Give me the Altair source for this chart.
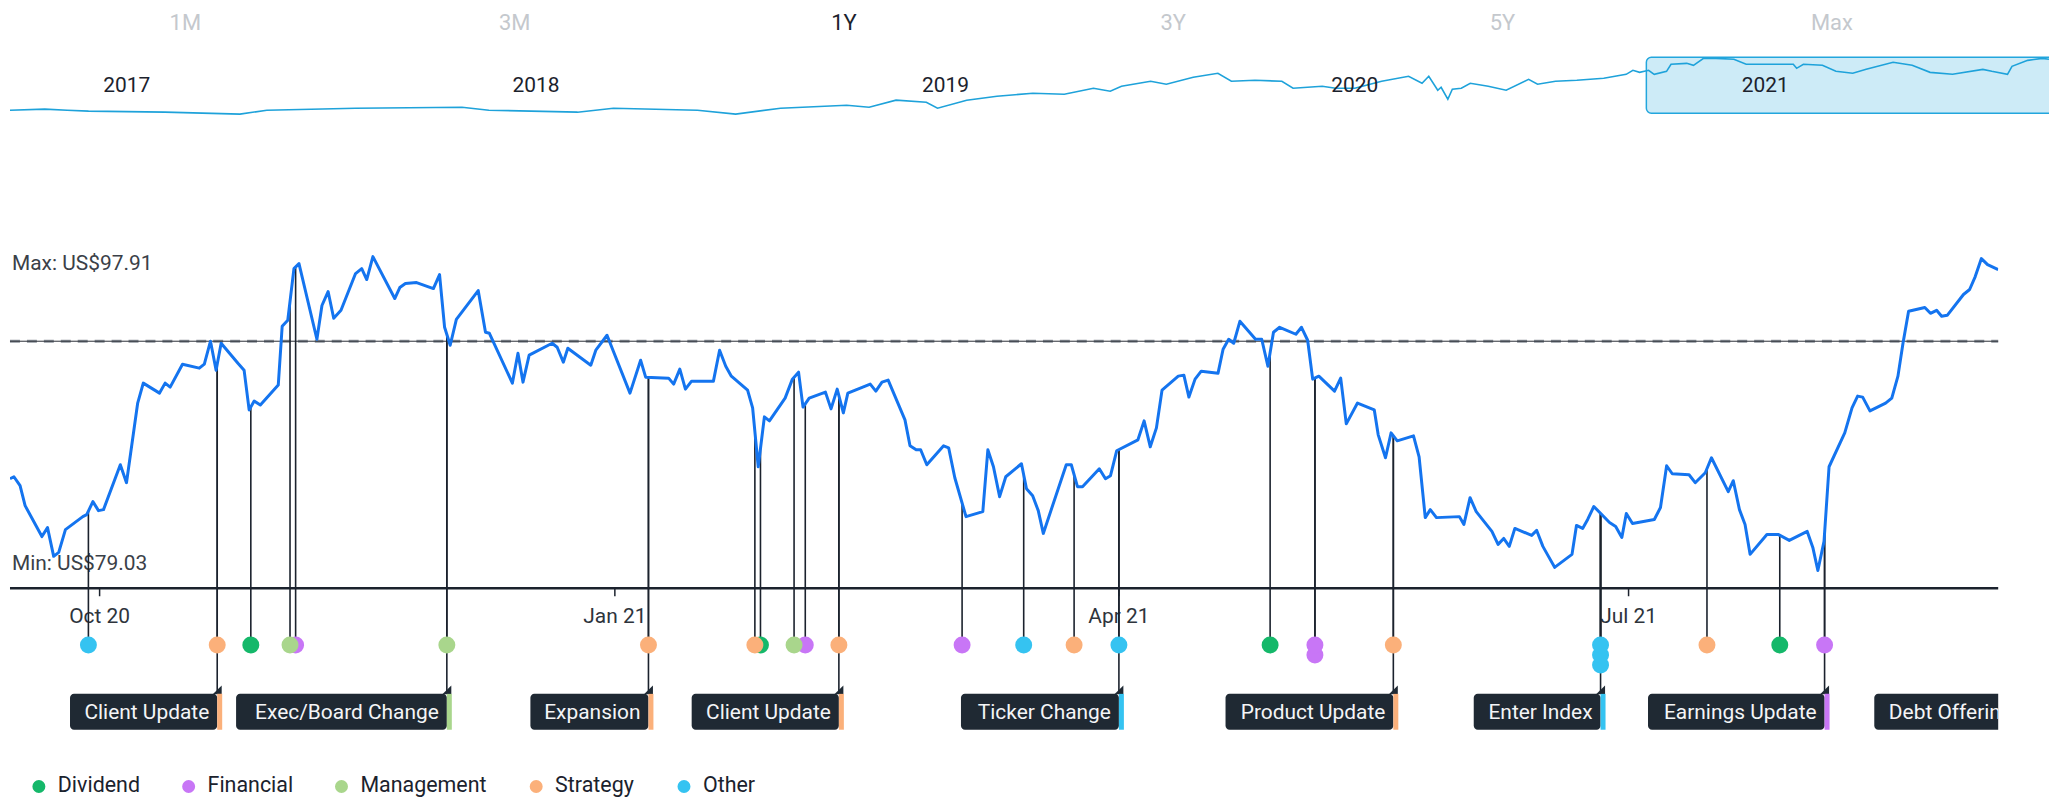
import altair as alt
import numpy as np
import pandas as pd

# ---------------- data ----------------
RANGE_BUTTONS = ["1M", "3M", "1Y", "3Y", "5Y", "Max"]
ACTIVE_BUTTON = "1Y"

# navigator (5 years): days since 2017-01-01 and price (US$)
NAV_YEARS = [2017, 2018, 2019, 2020, 2021]
NAV_DAY = [-104, -73, -53, -34, 34, 101, 125, 204, 299, 323,
           402, 434, 509, 543, 583, 642, 662, 686, 713, 723,
           749, 776, 808, 836, 862, 877, 887, 913, 927, 951,
           973, 985, 1006, 1030, 1040, 1066, 1078, 1095, 1119, 1143,
           1155, 1161, 1169, 1172, 1178, 1182, 1190, 1198, 1214, 1230,
           1250, 1258, 1274, 1293, 1317, 1337, 1343, 1349, 1357, 1362,
           1373, 1377, 1391, 1397, 1406, 1417, 1433, 1444, 1462, 1486,
           1489, 1495, 1512, 1524, 1539, 1551, 1575, 1592, 1608, 1628,
           1655, 1663, 1677, 1681, 1695, 1708, 1714]
NAV_PRICE = [41.5, 42.6, 41.5, 40.5, 39.4, 37.3, 41.5, 43.6, 44.7, 41.5,
             39.4, 43.6, 41.5, 37.3, 43.6, 46.8, 44.7, 52.2, 50.0, 43.6,
             52.2, 56.4, 59.6, 58.5, 64.9, 61.7, 67.0, 72.4, 69.2, 76.6,
             80.9, 72.4, 73.4, 72.4, 64.9, 67.0, 64.9, 64.9, 72.4, 77.7,
             70.2, 77.7, 62.8, 66.0, 53.2, 63.9, 64.9, 70.2, 67.0, 62.8,
             74.5, 69.2, 72.4, 73.4, 75.6, 79.8, 84.1, 81.9, 84.1, 79.8,
             83.0, 90.5, 91.5, 89.4, 96.8, 96.8, 95.8, 90.5, 90.5, 90.5,
             86.2, 90.5, 89.4, 83.0, 80.9, 85.1, 92.6, 89.4, 81.9, 79.8,
             85.1, 83.0, 79.8, 88.3, 94.7, 96.8, 95.8]
NAV_WINDOW = ["2020-09-17", "2021-09-17"]

# main 1Y price line: days since 2020-10-01 and price (US$)
PRICE_DAY = [-16.0, -15.3, -14.2, -13.3, -10.3, -9.3, -8.2, -7.3, -6.1, -3.0,
             -2.3, -1.2, -0.2, 0.7, 3.7, 4.8, 6.8, 7.8, 10.7, 11.7,
             12.6, 14.8, 17.8, 18.7, 19.8, 20.8, 21.7, 24.7, 25.8, 26.7,
             27.6, 28.7, 31.9, 32.6, 33.6, 34.7, 35.6, 38.8, 39.7, 40.8,
             41.8, 43.1, 45.7, 46.8, 47.7, 48.8, 52.7, 53.6, 54.6, 56.6,
             59.6, 60.7, 61.6, 62.6, 63.7, 67.6, 68.9, 69.6, 73.7, 74.7,
             75.6, 76.7, 80.8, 81.7, 82.8, 83.6, 87.7, 88.6, 90.6, 94.7,
             96.6, 97.5, 101.6, 102.5, 103.6, 104.6, 105.7, 109.6, 110.7, 111.8,
             112.8, 115.7, 116.6, 117.6, 118.7, 119.6, 122.4, 123.7, 124.8, 125.6,
             126.7, 129.6, 130.6, 131.7, 132.8, 133.6, 137.6, 138.6, 139.7, 140.8,
             143.8, 144.7, 145.8, 146.6, 147.7, 150.7, 151.6, 152.7, 154.7, 157.7,
             158.6, 159.6, 160.7, 161.8, 164.6, 165.5, 166.6, 167.6, 168.5, 172.6,
             173.5, 174.6, 175.5, 178.5, 179.6, 180.5, 181.6, 185.4, 186.5, 187.6,
             188.7, 189.7, 192.6, 193.6, 194.5, 195.6, 196.7, 199.7, 200.6, 201.6,
             202.5, 203.6, 206.4, 207.5, 208.6, 209.6, 210.7, 213.6, 214.6, 215.7,
             216.6, 217.7, 220.5, 221.6, 222.6, 224.6, 227.6, 228.3, 229.6, 230.6,
             231.7, 234.6, 235.6, 236.7, 237.6, 238.7, 242.8, 243.6, 244.7, 245.8,
             248.6, 249.7, 250.7, 251.7, 252.7, 255.7, 256.6, 257.7, 258.6, 259.8,
             262.9, 263.7, 264.8, 265.7, 266.8, 269.6, 270.7, 271.8, 272.6, 273.7,
             277.6, 278.7, 279.8, 280.8, 283.8, 284.9, 286.7, 287.8, 290.8, 291.7,
             292.8, 293.8, 294.7, 297.7, 298.6, 299.7, 301.7, 304.9, 305.9, 306.8,
             307.9, 308.8, 311.6, 312.9, 313.9, 314.8, 316.1, 318.9, 320.0, 321.1,
             322.0, 323.0, 325.9, 326.9, 328.0, 328.9, 329.9, 332.8, 333.9, 334.9,
             336.0, 337.1, 339.0]
PRICE = [84.55, 84.67, 84.13, 82.93, 81.07, 81.61, 79.88, 80.12, 81.49, 82.27,
         82.39, 83.17, 82.63, 82.69, 85.39, 84.31, 89.10, 90.30, 89.70, 90.30,
         90.06, 91.44, 91.20, 91.44, 92.82, 91.08, 92.70, 91.50, 91.08, 88.69,
         89.22, 88.98, 90.18, 93.72, 94.08, 97.19, 97.49, 92.94, 94.97, 95.81,
         94.20, 94.68, 96.89, 97.19, 96.53, 97.91, 95.39, 96.05, 96.29, 96.35,
         95.99, 96.83, 93.66, 92.58, 94.14, 95.87, 93.36, 93.30, 90.30, 92.10,
         90.36, 91.98, 92.70, 92.46, 91.56, 92.40, 91.38, 92.28, 93.18, 89.70,
         91.68, 90.66, 90.60, 90.24, 91.14, 89.94, 90.42, 90.42, 92.28, 91.32,
         90.72, 89.88, 88.81, 85.27, 88.27, 88.03, 89.40, 90.54, 90.96, 88.86,
         89.40, 89.76, 88.75, 89.94, 88.51, 89.70, 90.24, 89.82, 90.36, 90.48,
         88.09, 86.53, 86.29, 86.29, 85.39, 86.53, 86.41, 84.61, 82.27, 82.57,
         86.29, 85.27, 83.47, 84.67, 85.45, 83.95, 83.53, 82.63, 81.26, 85.39,
         85.39, 84.07, 84.07, 85.15, 84.55, 84.73, 86.23, 86.89, 88.03, 86.47,
         87.61, 89.88, 90.72, 90.78, 89.46, 90.54, 91.02, 90.90, 92.34, 92.94,
         92.70, 94.02, 92.94, 92.94, 91.32, 93.36, 93.66, 93.24, 93.66, 92.88,
         90.54, 90.72, 89.82, 90.60, 87.85, 89.10, 88.69, 87.19, 85.81, 87.31,
         86.83, 87.13, 85.87, 82.21, 82.69, 82.21, 82.27, 81.80, 83.41, 82.57,
         81.38, 80.60, 80.96, 80.48, 81.56, 81.14, 81.44, 80.48, 79.94, 79.22,
         80.00, 81.74, 81.56, 82.10, 82.88, 81.92, 81.68, 81.02, 82.46, 81.86,
         82.10, 82.82, 85.33, 84.85, 84.79, 84.31, 84.91, 85.81, 83.77, 84.43,
         82.69, 81.80, 80.00, 81.20, 81.20, 81.20, 80.84, 81.38, 80.42, 79.03,
         80.78, 85.27, 87.31, 88.81, 89.52, 89.46, 88.63, 89.10, 89.40, 90.72,
         92.70, 94.62, 94.85, 94.50, 94.68, 94.32, 94.38, 95.63, 95.93, 96.71,
         97.79, 97.43, 97.13]
REF_PRICE = 92.82

TICK_DATES = ["2020-10-01", "2021-01-01", "2021-04-01", "2021-07-01"]
TICK_LABELS = ["Oct 20", "Jan 21", "Apr 21", "Jul 21"]

CATEGORIES = ["Dividend", "Financial", "Management", "Strategy", "Other"]
CAT_COLORS = ["#15b86a", "#c876f6", "#a9d68c", "#fbb07a", "#35c3f1"]

# events: days since 2020-10-01, category, stack slot, label
EV_DAY = [-2, 21, 27, 34, 35, 62, 98, 117, 118, 124, 126, 132, 154, 165, 174,
          182, 209, 217, 217, 231, 268, 268, 268, 287, 300, 308, 343]
EV_CAT = ["Other", "Strategy", "Dividend", "Management", "Financial",
          "Management", "Strategy", "Strategy", "Dividend", "Management",
          "Financial", "Strategy", "Financial", "Other", "Strategy",
          "Other", "Dividend", "Financial", "Financial", "Strategy",
          "Other", "Other", "Other", "Strategy", "Dividend",
          "Financial", "Financial"]
EV_SLOT = [0] * 18 + [1] + [0, 0] + [1, 2] + [0, 0, 0, 0]
EV_LABEL = ["", "Client Update", "", "", "", "Exec/Board Change", "Expansion",
            "", "", "", "", "Client Update", "", "", "", "Ticker Change", "",
            "", "", "Product Update", "Enter Index", "", "", "", "",
            "Earnings Update", "Debt Offering"]

# ---------------- layout constants ----------------
W, H = 1996, 780
FONT = "Roboto"
DARK = "#1b222d"
BASE = pd.Timestamp("2020-10-01")
NAV_BASE = pd.Timestamp("2017-01-01")

X_MAIN = alt.Scale(domain=[alt.DateTime(year=2020, month=9, date=15),
                           alt.DateTime(year=2021, month=9, date=5)],
                   range=[0, W], nice=False)
PX_PER_DAY = W / 355.0
Y_MAIN = alt.Scale(domain=[77.96, 99.47], range=[581, 222], nice=False, zero=False)
X_NAV = alt.Scale(domain=[alt.DateTime(year=2016, month=9, date=19),
                          alt.DateTime(year=2021, month=9, date=11)],
                  range=[0, 2047], nice=False)
Y_NAV = alt.Scale(domain=[37.3, 97.9], range=[105, 48], nice=False, zero=False)
Y_SLOT = alt.Scale(domain=[0, 2], range=[638, 658], nice=False, zero=False)
X_BTN = alt.Scale(type="point", domain=RANGE_BUTTONS, range=[176, 1829], padding=0)
COLOR = alt.Scale(domain=CATEGORIES, range=CAT_COLORS)

# approximate Roboto glyph widths (em), used to size boxes and space legend items
EM = {c: 0.55 for c in "abcdeghknopqsuvxyz"}
EM.update({"f": 0.35, "i": 0.24, "j": 0.24, "l": 0.24, "m": 0.88, "r": 0.34,
           "t": 0.33, "w": 0.75, " ": 0.25, "/": 0.41, "C": 0.65, "E": 0.57,
           "B": 0.62, "D": 0.65, "I": 0.27, "O": 0.69, "P": 0.63, "T": 0.6,
           "U": 0.65, "F": 0.55, "M": 0.87, "S": 0.59, "G": 0.68, "A": 0.65})


def text_px(s, size=22):
    return sum(EM.get(ch, 0.6) for ch in s) * size


# ---------------- frames ----------------
price_df = pd.DataFrame({
    "date": (BASE + pd.to_timedelta(PRICE_DAY, unit="D")).round("min"),
    "price": PRICE,
})
nav_df = pd.DataFrame({
    "date": (NAV_BASE + pd.to_timedelta(NAV_DAY, unit="D")).round("min"),
    "price": NAV_PRICE,
})
year_df = pd.DataFrame({
    "date": [pd.Timestamp(year=y, month=1, day=1) for y in NAV_YEARS],
    "label": [str(y) for y in NAV_YEARS],
})
win_df = pd.DataFrame({"start": [pd.Timestamp(NAV_WINDOW[0])],
                       "end": [pd.Timestamp(NAV_WINDOW[1])]})
btn_df = pd.DataFrame({"btn": RANGE_BUTTONS})
tick_df = pd.DataFrame({"date": pd.to_datetime(TICK_DATES), "label": TICK_LABELS})
ref_df = pd.DataFrame({"price": [REF_PRICE]})
pmax, pmin = max(PRICE), min(PRICE)
max_df = pd.DataFrame({"price": [pmax], "label": [f"Max: US${pmax:.2f}"]})
min_df = pd.DataFrame({"price": [pmin], "label": [f"Min: US${pmin:.2f}"]})

ev_df = pd.DataFrame({
    "day": EV_DAY, "cat": EV_CAT, "slot": EV_SLOT, "label": EV_LABEL,
})
ev_df["date"] = BASE + pd.to_timedelta(ev_df["day"], unit="D")
ev_df["price"] = np.interp(ev_df["day"], PRICE_DAY, PRICE)
ev_df["hex"] = ev_df["cat"].map(dict(zip(CATEGORIES, CAT_COLORS)))
ev_df = ev_df.sort_values(["day", "slot"], ascending=[False, False]).reset_index(drop=True)
lab_df = ev_df[ev_df["label"] != ""].drop_duplicates("day").copy()
lab_df["left"] = lab_df.apply(
    lambda r: r["date"] - pd.Timedelta(days=(text_px(r["label"]) + 16) / PX_PER_DAY), axis=1)

# ---------------- layers ----------------
xm = alt.X("date:T", scale=X_MAIN, axis=None)
ym = alt.Y("price:Q", scale=Y_MAIN, axis=None)

nav_rect = alt.Chart(win_df).mark_rect(
    fill="#cdebf7", stroke="#22a6dd", strokeWidth=1.5, cornerRadius=5
).encode(
    x=alt.X("start:T", scale=X_NAV, axis=None), x2="end:T",
    y=alt.value(48), y2=alt.value(104))

nav_line = alt.Chart(nav_df).mark_line(color="#1ea2da", strokeWidth=1.6).encode(
    x=alt.X("date:T", scale=X_NAV, axis=None),
    y=alt.Y("price:Q", scale=Y_NAV, axis=None))

nav_years = alt.Chart(year_df).mark_text(
    fontSize=21, color=DARK, baseline="middle", font=FONT
).encode(x=alt.X("date:T", scale=X_NAV, axis=None), y=alt.value(77), text="label:N")

buttons = alt.Chart(btn_df).mark_text(fontSize=22, baseline="middle", font=FONT).encode(
    x=alt.X("btn:N", scale=X_BTN, axis=None), y=alt.value(14), text="btn:N",
    color=alt.condition(f"datum.btn == '{ACTIVE_BUTTON}'",
                        alt.value(DARK), alt.value("#c4c8cd")))

ref_dash = alt.Chart(ref_df).mark_rule(
    color="#8e959d", strokeWidth=3, strokeDash=[10, 7]
).encode(y=ym, x=alt.value(0), x2=alt.value(W))
ref_thin = alt.Chart(ref_df).mark_rule(color="#2b3038", strokeWidth=1).encode(
    y=ym, x=alt.value(0), x2=alt.value(W))

baseline = alt.Chart(ref_df).mark_rule(color=DARK, strokeWidth=2.5).encode(
    y=alt.value(581), x=alt.value(0), x2=alt.value(W))

ticks = alt.Chart(tick_df).mark_rule(color=DARK, strokeWidth=1.5).encode(
    x=xm, y=alt.value(581), y2=alt.value(589))
tick_labels = alt.Chart(tick_df).mark_text(
    fontSize=21, color="#2e343c", baseline="middle", font=FONT
).encode(x=xm, y=alt.value(610), text="label:N")

max_label = alt.Chart(max_df).mark_text(
    align="left", baseline="middle", dy=7, fontSize=21, color="#3a4048", font=FONT
).encode(x=alt.value(2), y=ym, text="label:N")
min_label = alt.Chart(min_df).mark_text(
    align="left", baseline="middle", dy=-6, fontSize=21, color="#3a4048", font=FONT
).encode(x=alt.value(2), y=ym, text="label:N")

stems = alt.Chart(ev_df).mark_rule(color=DARK, strokeWidth=1.6, clip=True).encode(
    x=xm, y=ym, y2=alt.value(638))
stems_lab = alt.Chart(lab_df).mark_rule(color=DARK, strokeWidth=1.6, clip=True).encode(
    x=xm, y=ym, y2=alt.value(687))

line = alt.Chart(price_df).mark_line(
    color="#1474ef", strokeWidth=3, clip=True, strokeJoin="round"
).encode(x=xm, y=ym)

boxes = alt.Chart(lab_df).mark_rect(color="#1f2933", cornerRadius=4, clip=True).encode(
    x=alt.X("left:T", scale=X_MAIN, axis=None), x2="date:T",
    y=alt.value(687), y2=alt.value(723))
# little pointer at the box's top-right corner, joining the stem
notches = alt.Chart(lab_df).mark_point(
    shape="M -1 1 L 1 -1 L 1 1 Z", size=81, filled=True, opacity=1,
    color="#1f2933", strokeWidth=0, dx=-4.5, clip=True
).encode(x=xm, y=alt.value(683))
strips = alt.Chart(lab_df).mark_rect(clip=True, x2Offset=5).encode(
    x=xm, x2="date:T", y=alt.value(687), y2=alt.value(723),
    color=alt.Color("hex:N", scale=None))
box_text = alt.Chart(lab_df).mark_text(
    align="right", baseline="middle", dx=-8, fontSize=21, color="#f4f5f7",
    clip=True, font=FONT
).encode(x=xm, y=alt.value(706), text="label:N")

dots = alt.Chart(ev_df).mark_circle(size=290, opacity=1, clip=True).encode(
    x=xm,
    y=alt.Y("slot:Q", scale=Y_SLOT, axis=None),
    color=alt.Color("cat:N", scale=COLOR, legend=None))

# legend drawn as marks: a dot and a label per category, spaced by label width
legend_layers = []
cx = 29.0
for cat, col in zip(CATEGORIES, CAT_COLORS):
    cdf = pd.DataFrame({"cat": [cat]})
    legend_layers.append(alt.Chart(cdf).mark_circle(size=170, opacity=1, color=col).encode(
        x=alt.value(cx), y=alt.value(780)))
    legend_layers.append(alt.Chart(cdf).mark_text(
        align="left", baseline="middle", fontSize=21.5, color=DARK, font=FONT
    ).encode(x=alt.value(cx + 19), y=alt.value(780), text="cat:N"))
    cx = cx + 19 + text_px(cat) + 46

chart = alt.layer(
    nav_rect, nav_line, nav_years, buttons,
    ref_dash, ref_thin, baseline, ticks, tick_labels, max_label, min_label,
    stems, stems_lab, line, boxes, notches, strips, box_text, dots,
    *legend_layers,
).resolve_scale(
    x="independent", y="independent"
).properties(
    width=W, height=H,
    autosize=alt.AutoSizeParams(type="none"),
    padding={"left": 2, "top": 0, "right": 51, "bottom": 12},
).configure(font=FONT, background="white").configure_view(stroke=None)

chart.save("out.html", embed_options={"renderer": "svg", "actions": False})
